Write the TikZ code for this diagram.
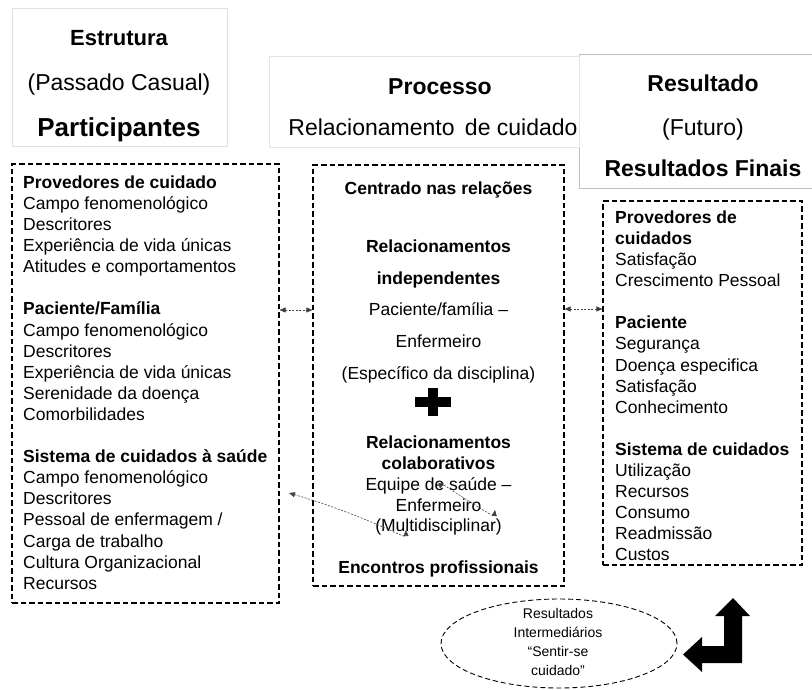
\documentclass[tikz,border=0pt]{standalone}
\usepackage{fontspec}
\setmainfont{Liberation Sans}
\usetikzlibrary{arrows.meta,shapes.geometric}
\newcommand\fs[2]{\fontsize{#1}{#2}\selectfont}
\begin{document}
\begin{tikzpicture}[x=1pt,y=-1pt,
  hbox/.style={draw=#1, fill=white, line width=0.8pt, inner sep=0pt},
  hbox/.default={black!12},
  dbox/.style={draw=black, line width=1.1pt, dash pattern=on 5.5pt off 3pt, inner sep=0pt},
  ell/.style={ellipse, draw=black, line width=0.9pt, dash pattern=on 5pt off 3pt, inner sep=0pt},
  txt/.style={anchor=base, inner sep=0pt},
  body/.style={font=\fs{17.5}{21.1}},
  head/.style={font=\fs{23}{27}},
  dotarrow/.style={draw=black!75, line width=0.6pt, dash pattern=on 2pt off 1.5pt,
    {Triangle[length=6pt,width=5pt]}-{Triangle[length=6pt,width=5pt]}}
]
\useasboundingbox (0,0) rectangle (812,689);

% header boxes
\node[hbox=black!25, minimum width=240pt, minimum height=134pt] (hR) at (699,121) {};
\node[hbox=black!10, minimum width=310pt, minimum height=91pt] (hM) at (424,101.5) {};
\node[hbox, minimum width=215pt, minimum height=138pt] (hL) at (119.5,77) {};

\node[txt, head, font=\fs{22}{26}\bfseries] (tEstr) at (119,45) {Estrutura};
\node[txt, head] (tPass) at (119,90.5) {(Passado Casual)};
\node[txt, font=\fs{26}{30}\bfseries] (tPart) at (119,136) {Participantes};

\node[txt, head, font=\fs{23}{27}\bfseries] (tProc) at (440,94) {Processo};
\node[txt, head] (tRel) at (433,135) {Relacionamento\hspace{4pt} de cuidado};

\node[txt, head, font=\fs{23}{27}\bfseries] (tRes) at (703,91) {Resultado};
\node[txt, head] (tFut) at (703,135) {(Futuro)};
\node[txt, head, font=\fs{23}{27}\bfseries] (tFin) at (703,176) {Resultados Finais};

% dashed boxes
\node[dbox, minimum width=267pt, minimum height=439pt] (bL) at (145.5,383.5) {};
\node[dbox, minimum width=251pt, minimum height=421pt] (bM) at (438.5,375.5) {};
\node[dbox, minimum width=199pt, minimum height=364pt] (bR) at (702.5,383) {};

% left box text
\node[txt, body, anchor=base west] (tL) at (23,188.3) {\begin{tabular}[t]{@{}l@{}}
\textbf{Provedores de cuidado}\\
Campo fenomenológico\\
Descritores\\
Experiência de vida únicas\\
Atitudes e comportamentos\\
\\
\textbf{Paciente/Família}\\
Campo fenomenológico\\
Descritores\\
Experiência de vida únicas\\
Serenidade da doença\\
Comorbilidades\\
\\
\textbf{Sistema de cuidados à saúde}\\
Campo fenomenológico\\
Descritores\\
Pessoal de enfermagem /\\
Carga de trabalho\\
Cultura Organizacional\\
Recursos
\end{tabular}};

% middle box text
\node[txt, body, font=\fs{17.5}{21.1}\bfseries] (tCen) at (438.5,194.3) {Centrado nas relações};
\node[txt, body, font=\fs{17.5}{31.7}] (tInd) at (438.5,252.3) {\begin{tabular}[t]{@{}c@{}}
\textbf{Relacionamentos}\\
\textbf{independentes}\\
Paciente/família –\\
Enfermeiro\\
(Específico da disciplina)
\end{tabular}};
\fill (415,397.3) rectangle (451,407.3);
\fill (427.7,388.3) rectangle (438.3,416);
\node[txt, body, font=\fs{17.5}{20.9}] (tCol) at (438.5,448.3) {\begin{tabular}[t]{@{}c@{}}
\textbf{Relacionamentos}\\
\textbf{colaborativos}\\
Equipe de saúde –\\
Enfermeiro\\
(Multidisciplinar)
\end{tabular}};
\node[txt, body, font=\fs{17.5}{21.1}\bfseries] (tEnc) at (438.5,573.3) {Encontros profissionais};

% right box text
\node[txt, body, anchor=base west] (tR) at (615,223.3) {\begin{tabular}[t]{@{}l@{}}
\textbf{Provedores de}\\
\textbf{cuidados}\\
Satisfação\\
Crescimento Pessoal\\
\\
\textbf{Paciente}\\
Segurança\\
Doença especifica\\
Satisfação\\
Conhecimento\\
\\
\textbf{Sistema de cuidados}\\
Utilização\\
Recursos\\
Consumo\\
Readmissão\\
Custos
\end{tabular}};

% ellipse
\node[ell, minimum width=236pt, minimum height=89pt] (ellI) at (559,643.5) {};
\node[txt, font=\fs{14}{19.3}] (tEll) at (558,618) {\begin{tabular}[t]{@{}c@{}}
Resultados\\
Intermediários\\
“Sentir-se\\
cuidado"
\end{tabular}};

% big elbow arrow
\fill (733,598) -- (750,616) -- (742,616) -- (742,663) -- (702,663) -- (702,672)
  -- (683,654.5) -- (702,637) -- (702,646) -- (724,646) -- (724,616) -- (715,616) -- cycle;

% connectors
\coordinate (y310) at (0,310);
\coordinate (y309) at (0,309);
\draw[dotarrow] (bL.east |- y310) -- (bM.west |- y310);
\draw[dotarrow] (bM.east |- y309) -- (bR.west |- y309);

\coordinate (d1a) at (289,493);
\coordinate (d1b) at (406,530);
\coordinate (d2a) at (440,489);
\coordinate (d2b) at (495,510);
\draw[dotarrow] (d1a) .. controls (370,517) and (406,540) .. (d1b);
\draw[dotarrow] (d2a) .. controls (441,483) and (494,518) .. (d2b);
\end{tikzpicture}
\end{document}
